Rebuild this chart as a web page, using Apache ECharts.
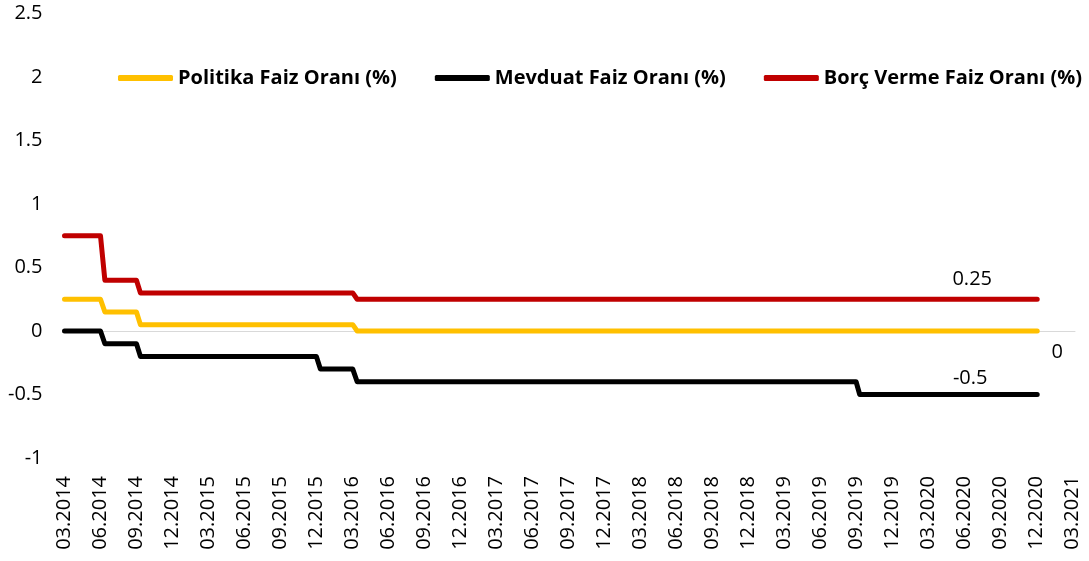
<!DOCTYPE html>
<html>
<head>
<meta charset="utf-8">
<script src="https://cdn.jsdelivr.net/npm/echarts@6/dist/echarts.min.js"></script>
<style>
html,body{margin:0;padding:0;background:#fff;}
#chart{width:1089px;height:561px;}
</style>
</head>
<body>
<div id="chart"></div>
<script>
// Change dates (each rate holds its value until the next date)
const dates = ["2014-03-01","2014-06-01","2014-06-12","2014-09-01","2014-09-11","2015-12-01","2015-12-11","2016-03-02","2016-03-13","2019-09-01","2019-09-10","2020-12-04"];
const politika = [0.25,0.25,0.15,0.15,0.05,0.05,0.05,0.05,0,0,0,0];
const mevduat  = [0,0,-0.1,-0.1,-0.2,-0.2,-0.3,-0.3,-0.4,-0.4,-0.5,-0.5];
const borc     = [0.75,0.75,0.40,0.40,0.30,0.30,0.30,0.30,0.25,0.25,0.25,0.25];
const seriesNames = ["Politika Faiz Oranı (%)","Mevduat Faiz Oranı (%)","Borç Verme Faiz Oranı (%)"];
const xTickLabels = ["03.2014","06.2014","09.2014","12.2014","03.2015","06.2015","09.2015","12.2015","03.2016","06.2016","09.2016","12.2016","03.2017","06.2017","09.2017","12.2017","03.2018","06.2018","09.2018","12.2018","03.2019","06.2019","09.2019","12.2019","03.2020","06.2020","09.2020","12.2020","03.2021"];
const yMin = -1, yMax = 2.5, yStep = 0.5;

// months since 03.2014
function monthIndex(d){
  const [y,m,dd] = d.split('-').map(Number);
  return (y-2014)*12 + (m-3) + (dd-1)/30;
}
const xs = dates.map(monthIndex);
const FONT = '"Open Sans", sans-serif';

function mkSeries(name, vals, color, labelOffset){
  const data = xs.map((x,i)=>[x, vals[i]]);
  const last = data[data.length-1];
  return {
    name, type:'line', data, showSymbol:false, symbol:'none',
    lineStyle:{color, width:5, cap:'round', join:'round'},
    itemStyle:{color},
    z:3,
    markPoint:{
      silent:true, symbol:'circle', symbolSize:1,
      itemStyle:{color:'rgba(0,0,0,0)'},
      label:{show:true, position:'inside', offset:labelOffset, color:'#000',
             fontFamily:FONT, fontSize:20, formatter:()=>String(last[1])},
      data:[{coord:last, value:last[1]}]
    }
  };
}

const chart = echarts.init(document.getElementById('chart'), null, {renderer:'canvas'});
chart.setOption({
  animation:false,
  backgroundColor:'#fff',
  grid:{left:64.5, right:14, top:13.5, bottom:103, containLabel:false},
  legend:{
    left:113, top:63, width:1000, itemWidth:55, itemHeight:6, itemGap:38, icon:'roundRect',
    data:seriesNames,
    textStyle:{fontFamily:FONT, fontSize:20, fontWeight:'bold', color:'#000'}
  },
  xAxis:[{
    type:'value', min:0, max:84.25, interval:3, position:'bottom',
    axisLine:{show:false, onZero:false}, axisTick:{show:false}, splitLine:{show:false},
    axisLabel:{rotate:90, margin:18, fontFamily:FONT, fontSize:20, color:'#000',
      showMaxLabel:false,
      formatter:(v)=>{ const k=v/3; return Number.isInteger(k) && xTickLabels[k] ? xTickLabels[k] : ''; }}
  },{
    type:'value', min:0, max:84.25, position:'bottom',
    axisLine:{show:true, onZero:true, lineStyle:{color:'#D9D9D9', width:1}},
    axisTick:{show:false}, axisLabel:{show:false}, splitLine:{show:false}
  }],
  yAxis:{
    type:'value', min:yMin, max:yMax, interval:yStep,
    axisLine:{show:false}, axisTick:{show:false}, splitLine:{show:false},
    axisLabel:{margin:22, fontFamily:FONT, fontSize:20, color:'#000'}
  },
  series:[
    mkSeries(seriesNames[0], politika, '#FFC000', [20,21]),
    mkSeries(seriesNames[1], mevduat, '#000000', [-67,-16]),
    mkSeries(seriesNames[2], borc, '#C00000', [-65,-20])
  ]
});
</script>
</body>
</html>
